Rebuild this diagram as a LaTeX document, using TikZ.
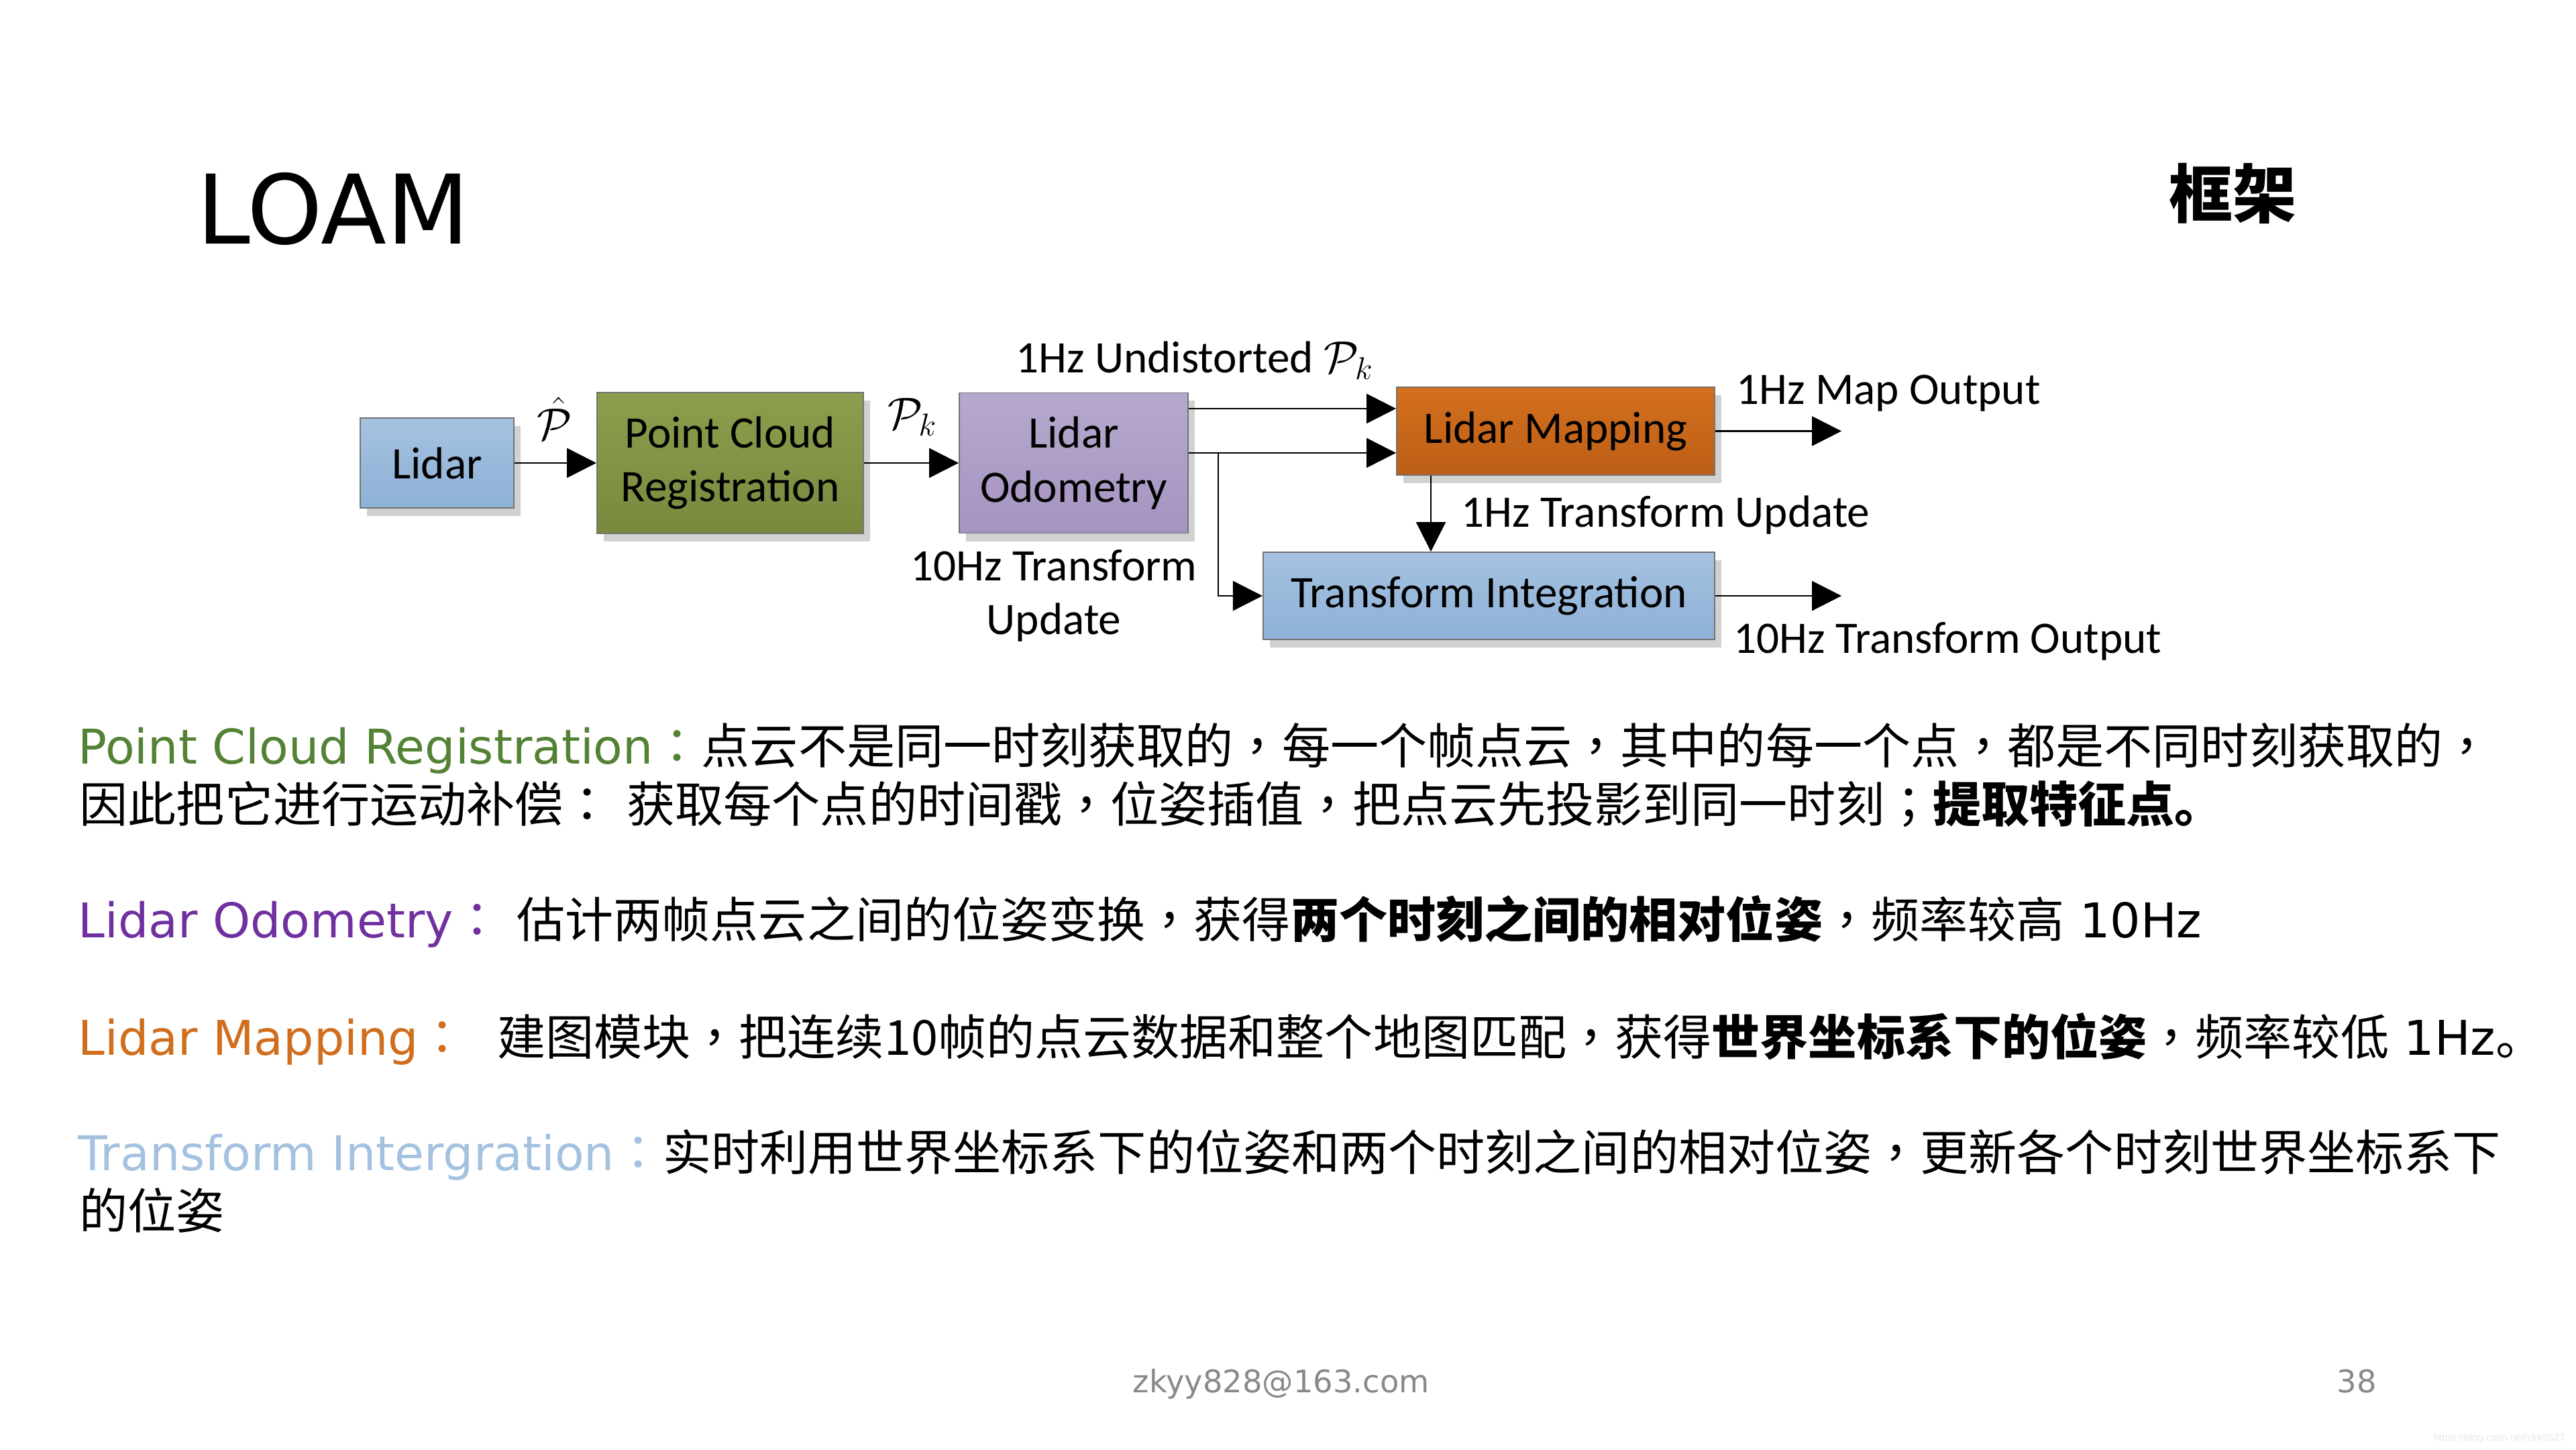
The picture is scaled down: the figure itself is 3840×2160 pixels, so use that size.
\RequirePackage{fix-cm}
\documentclass[tikz,border=0pt]{standalone}
\usepackage{fontspec}
\setmainfont{DejaVu Sans}
\newfontfamily\cjk[Scale=1.01]{Noto Sans CJK SC}
\newfontfamily\cjktc[Scale=1.01]{Noto Sans CJK TC}
\newfontfamily\calib{Carlito}
\newfontfamily\arialf{Liberation Sans}
\newcommand\zhcomma{{\cjktc ，}}
\newcommand\zhcolon{{\cjktc ：}}
\newcommand\zhsemi{{\cjktc ；}}
\usetikzlibrary{arrows.meta,shadows,calc}

\definecolor{pcrgreen}{RGB}{84,130,53}
\definecolor{lopurple}{RGB}{112,48,160}
\definecolor{lmorange}{RGB}{208,110,30}
\definecolor{tiblue}{RGB}{164,194,224}
\definecolor{bluetop}{RGB}{166,194,224}
\definecolor{bluebot}{RGB}{141,177,215}
\definecolor{greentop}{RGB}{140,158,77}
\definecolor{greenbot}{RGB}{120,137,62}
\definecolor{purptop}{RGB}{182,168,205}
\definecolor{purpbot}{RGB}{165,148,192}
\definecolor{orgtop}{RGB}{212,112,30}
\definecolor{orgbot}{RGB}{188,94,22}
\definecolor{footgray}{RGB}{137,137,137}

\tikzset{
  blk/.style={draw=black!55, line width=0.5pt, inner sep=0pt, align=center,
    font=\calib\fontsize{19.1pt}{22.8pt}\selectfont,
    drop shadow={shadow xshift=0.1cm, shadow yshift=-0.12cm, opacity=0.18, fill=black}},
  arr/.style={line width=0.75pt, -{Triangle[length=12.5pt,width=12.5pt]}},
  lbl/.style={inner sep=0pt, font=\calib\fontsize{19.1pt}{22.8pt}\selectfont},
  body/.style={inner sep=0pt, anchor=base west, font=\fontsize{20.3pt}{24pt}\selectfont},
}

\begin{document}
\begin{tikzpicture}[x=0.01cm, y=-0.01cm]
\useasboundingbox (0,0) rectangle (3840,2160);
\fill[white] (0,0) rectangle (3840,2160);

% title
\node[inner sep=0pt, anchor=base west, font=\fontsize{40.7pt}{48pt}\selectfont] (title) at (293,363) {LOAM};
\node[inner sep=0pt, font=\cjk\bfseries\fontsize{26.7pt}{32pt}\selectfont] (kuangjia) at (3328,288) {框架};

% blocks
\node[blk, top color=bluetop, bottom color=bluebot, minimum width=2.29cm, minimum height=1.34cm] (lidar) at (651.5,690) {Lidar};
\node[blk, top color=greentop, bottom color=greenbot, minimum width=3.97cm, minimum height=2.10cm] (pcr) at (1088.5,690) {Point Cloud\\Registration};
\node[blk, top color=purptop, bottom color=purpbot, minimum width=3.41cm, minimum height=2.09cm] (lo) at (1600.5,690) {Lidar\\Odometry};
\node[blk, top color=orgtop, bottom color=orgbot, minimum width=4.74cm, minimum height=1.31cm] (lm) at (2319,642.5) {Lidar Mapping};
\node[blk, top color=bluetop, bottom color=bluebot, minimum width=6.73cm, minimum height=1.30cm] (ti) at (2219.5,888) {Transform Integration};

% connectors
\draw[arr] (lidar) -- (pcr);
\draw[arr] (pcr) -- (lo);
\draw[arr] ([yshift=0.81cm]lo.east) -- ([yshift=0.81cm]lo.east -| lm.west);
\draw[arr] ([yshift=0.15cm]lo.east) -- ([yshift=0.15cm]lo.east -| lm.west);
\coordinate (br) at ($(lo.east)+(44,-15)$);
\draw[arr] (br) |- (ti.west);
\coordinate (dn) at ($(lm.south west)+(52,0)$);
\draw[arr, line width=0.6pt] (dn) -- (dn |- ti.north);
\coordinate (o1) at ($(lm.east)+(188,0)$);
\coordinate (o2) at ($(ti.east)+(188,0)$);
\draw[arr] (lm.east) -- (o1);
\draw[arr] (ti.east) -- (o2);

% diagram labels
\node[lbl] (phat) at (827,624) {$\hat{\mathcal{P}}$};
\node[lbl] (pk) at (1360,622) {$\mathcal{P}_k$};
\node[lbl, anchor=base west] (und) at (1514,555) {1Hz Undistorted $\mathcal{P}_k$};
\node[lbl, anchor=base west] (mapout) at (2588,602) {1Hz Map Output};
\node[lbl, anchor=base west] (tupd) at (2178,785) {1Hz Transform Update};
\node[lbl, anchor=base west] (tout) at (2584,973) {10Hz Transform Output};
\node[lbl, anchor=base] (ten1) at (1571,865) {10Hz Transform};
\node[lbl, anchor=base] (ten2) at (1571,945) {Update};

% body text
\node[body] (t1) at (116,1138) {\textcolor{pcrgreen}{Point Cloud Registration\zhcolon}{\cjk 点云不是同一时刻获取的\zhcomma 每一个帧点云\zhcomma 其中的每一个点\zhcomma 都是不同时刻获取的\zhcomma}};
\node[body] (t2) at (118,1225) {{\cjk 因此把它进行运动补偿\zhcolon} {\cjk 获取每个点的时间戳\zhcomma 位姿插值\zhcomma 把点云先投影到同一时刻\zhsemi{\bfseries 提取特征点。}}};
\node[body] (t3) at (116,1397) {\textcolor{lopurple}{Lidar Odometry\zhcolon} {\cjk 估计两帧点云之间的位姿变换\zhcomma 获得{\bfseries 两个时刻之间的相对位姿}\zhcomma 频率较高} 10Hz};
\node[body] (t4) at (116,1572) {\textcolor{lmorange}{Lidar Mapping\zhcolon}\ \ {\cjk 建图模块\zhcomma 把连续10帧的点云数据和整个地图匹配\zhcomma 获得{\bfseries 世界坐标系下的位姿}\zhcomma 频率较低} 1Hz{\cjk 。}};
\node[body] (t5) at (116,1744) {\textcolor{tiblue}{Transform Intergration\zhcolon}{\cjk 实时利用世界坐标系下的位姿和两个时刻之间的相对位姿\zhcomma 更新各个时刻世界坐标系下}};
\node[body] (t6) at (118,1831) {{\cjk 的位姿}};

% footer
\node[inner sep=0pt, anchor=base west, text=footgray, font=\fontsize{13.2pt}{15pt}\selectfont] (mail) at (1688,2075) {zkyy828@163.com};
\node[inner sep=0pt, anchor=base west, text=footgray, font=\fontsize{13.2pt}{15pt}\selectfont] (pnum) at (3483,2075) {38};
\node[inner sep=0pt, anchor=base west, text=black!9, font=\arialf\fontsize{4.3pt}{5pt}\selectfont] (wm) at (3627,2147) {https://blog.csdn.net/zkk9527};
\end{tikzpicture}
\end{document}
